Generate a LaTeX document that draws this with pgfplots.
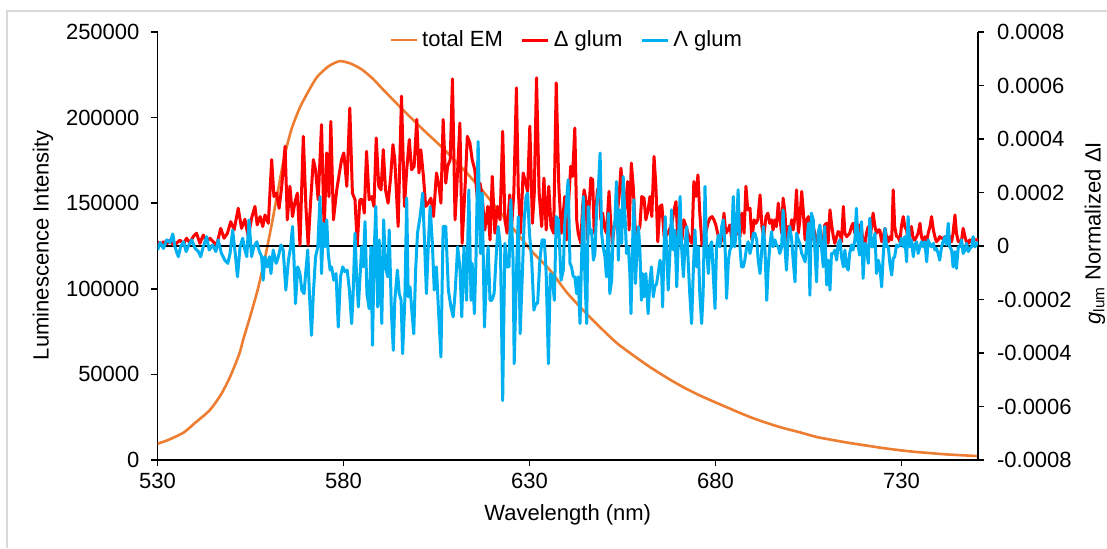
\documentclass[border=0pt]{standalone}
\usepackage{fontspec}
\setmainfont{Liberation Sans}
\usepackage{pgfplots}
\pgfplotsset{compat=1.18}
\definecolor{emorange}{RGB}{237,125,49}
\definecolor{lamblue}{RGB}{0,176,240}
\definecolor{framegray}{RGB}{217,217,217}

\pgfplotsset{
  glumbase/.style={
    scale only axis, width=410.25pt, height=214pt,
    at={(78.75pt,44pt)}, anchor=south west,
    xmin=530, xmax=750.6,
    scaled x ticks=false, scaled y ticks=false,
    tick align=outside, major tick length=3pt,
    tick style={black, line width=0.8pt},
    axis line style={black, line width=0.8pt},
    tick label style={font=\fontsize{11}{13}\selectfont},
    label style={font=\fontsize{11}{13}\selectfont},
  },
}

\begin{document}
\begin{tikzpicture}
\useasboundingbox (0,0) rectangle (553.5pt,274pt);
\draw[framegray, line width=1pt] (3.5pt,0pt) -- (3.5pt,268.5pt) -- (553.5pt,268.5pt);

% primary axis: total emission
\begin{axis}[glumbase,
  axis y line*=left, axis x line*=bottom,
  ymin=0, ymax=250000,
  ytick={0,50000,100000,150000,200000,250000},
  yticklabels={0,50000,100000,150000,200000,250000},
  yticklabel style={xshift=-2.5pt},
  xtick={530,580,630,680,730},
  xticklabels={530,580,630,680,730},
  ylabel={Luminescence Intensity},
  xlabel={Wavelength (nm)},
  ylabel style={at={(axis description cs:-0.1396,0.502)}, anchor=center},
  xlabel style={at={(axis description cs:0.5,-0.1285)}, anchor=center},
]
\addplot[emorange, line width=1.3pt, line join=round, smooth, tension=0.4] coordinates {
(530,9500) (533,11800) (537,16000) (540,21500) (544,29000) (547,38000)
(549.5,48500) (552,62000) (553,70000) (555,84500) (557,100000) (559,119000)
(561,141000) (564,176000) (566,193000) (568.3,206000) (571,217000) (573,224000)
(576,230000) (579,233000) (582,231500) (585,228000) (588,222500) (590.6,216500)
(596,204500) (601.4,193000) (606.8,182000) (613,168000) (617.5,157000) (622,145000)
(626.6,132600) (631,121000) (635.5,111000) (640,98000) (644.4,87600) (649,77500)
(653.5,68300) (658,61000) (662.4,54300) (667,48000) (671.3,42600) (676,37500)
(680.4,33300) (685,29000) (689.3,25100) (694,21500) (698.2,18700) (703,16000)
(707.3,13400) (712,11500) (716.2,9900) (721,8300) (725,7000) (730,5600)
(734,4700) (742,3300) (750.6,2300)
};
\end{axis}

% secondary axis: g_lum
\begin{axis}[glumbase,
  axis y line*=right, axis x line=none,
  ymin=-0.0008, ymax=0.0008,
  ytick={-0.0008,-0.0006,-0.0004,-0.0002,0,0.0002,0.0004,0.0006,0.0008},
  yticklabels={-0.0008,-0.0006,-0.0004,-0.0002,0,0.0002,0.0004,0.0006,0.0008},
  yticklabel style={xshift=3pt},
  ylabel={\textit{g}\textsubscript{lum} Normalized ΔI},
  ylabel style={at={(axis description cs:1.1426,0.53)}, anchor=center},
  legend style={at={(axis description cs:0.5,0.981)}, anchor=center,
    draw=none, fill=none, font=\fontsize{11}{13}\selectfont,
    legend columns=-1, /tikz/every even column/.append style={column sep=7pt}},
  legend image code/.code={\draw[#1] (0pt,0pt) -- (13pt,0pt);},
]
\addlegendimage{emorange, line width=1.3pt}
\addlegendentry{total EM}
\addplot[black, line width=0.8pt, forget plot] coordinates {(530,0) (750.6,0)};
\addplot[red, line width=1.5pt, line join=round] coordinates {
(530.0,16e-6) (530.7,4e-6) (531.6,16e-6) (532.5,8e-6) (533.4,22e-6) (534.3,3e-6) (535.1,10e-6) (536.0,22e-6)
(537.0,8e-6) (537.8,29e-6) (538.7,12e-6) (539.6,35e-6) (540.5,48e-6) (541.4,10e-6) (542.3,41e-6) (543.2,16e-6)
(544.1,29e-6) (545.0,16e-6) (545.9,4e-6) (547.0,66e-6) (547.9,29e-6) (548.8,48e-6) (549.7,91e-6) (550.6,60e-6)
(551.7,141e-6) (552.6,66e-6) (553.5,100e-6) (554.4,35e-6) (555.3,104e-6) (556.2,148e-6) (556.8,79e-6) (557.6,110e-6)
(558.3,73e-6) (558.9,116e-6) (559.8,85e-6) (560.7,323e-6) (561.3,185e-6) (562.0,198e-6) (562.7,141e-6) (563.4,223e-6)
(564.3,373e-6) (564.9,98e-6) (565.6,223e-6) (566.3,110e-6) (566.9,160e-6) (567.6,198e-6) (568.3,4e-6) (569.2,410e-6)
(569.9,148e-6) (570.5,4e-6) (571.2,173e-6) (571.9,323e-6) (572.5,285e-6) (573.2,173e-6) (574.1,454e-6) (574.8,60e-6)
(575.5,348e-6) (576.1,185e-6) (576.6,466e-6) (577.3,98e-6) (578.2,210e-6) (578.9,273e-6) (579.5,323e-6) (580.1,348e-6)
(580.9,223e-6) (581.7,516e-6) (582.4,198e-6) (583.1,173e-6) (583.7,4e-6) (584.4,173e-6)
(585.1,173e-6) (585.6,123e-6) (586.2,354e-6) (586.9,173e-6) (587.6,185e-6) (588.2,148e-6) (588.8,404e-6) (589.5,223e-6)
(590.1,210e-6) (590.7,360e-6) (591.3,210e-6) (592.0,160e-6) (592.7,260e-6) (593.3,379e-6) (593.8,323e-6) (594.7,73e-6)
(595.6,560e-6) (596.4,148e-6) (597.0,285e-6) (597.7,398e-6) (598.3,285e-6) (599.0,298e-6) (599.7,473e-6) (600.3,273e-6)
(600.8,360e-6) (601.5,260e-6) (602.1,148e-6) (602.8,160e-6) (603.5,179e-6) (604.2,110e-6) (605.0,273e-6) (605.7,223e-6)
(606.2,160e-6) (606.8,473e-6) (607.5,235e-6) (608.0,298e-6) (608.7,323e-6) (609.3,625e-6) (610.0,98e-6) (610.7,285e-6)
(611.3,460e-6) (611.9,10e-6) (612.7,223e-6) (613.3,410e-6) (614.0,385e-6) (614.6,323e-6) (615.3,285e-6) (616.1,160e-6)
(616.7,235e-6) (617.3,185e-6) (618.0,60e-6) (618.8,148e-6) (619.4,23e-6) (620.0,260e-6) (620.7,48e-6) (621.4,148e-6)
(622.1,98e-6) (622.8,429e-6) (623.4,98e-6) (624.0,48e-6) (624.7,191e-6) (625.2,73e-6) (625.8,198e-6) (626.5,591e-6)
(627.0,210e-6) (627.6,48e-6) (628.3,273e-6) (628.8,248e-6) (629.5,204e-6) (630.1,448e-6) (630.8,85e-6) (631.3,198e-6)
(631.9,629e-6) (632.6,198e-6) (633.3,73e-6) (633.9,254e-6) (634.5,60e-6) (635.2,223e-6) (635.8,73e-6) (636.5,48e-6)
(637.2,610e-6) (637.9,223e-6) (638.6,48e-6)
(639.5,185e-6) (640.0,23e-6) (640.4,135e-6) (641.1,298e-6) (641.6,260e-6) (642.2,441e-6) (642.7,98e-6) (643.1,48e-6)
(643.8,10e-6) (644.3,148e-6) (644.7,210e-6) (645.2,173e-6) (645.6,23e-6) (646.1,160e-6) (646.5,254e-6) (647.0,248e-6)
(647.4,48e-6) (647.9,148e-6) (648.3,210e-6) (648.8,223e-6) (649.2,98e-6) (649.7,123e-6) (650.1,73e-6) (650.7,48e-6)
(651.4,204e-6) (651.8,98e-6) (652.3,10e-6) (652.8,73e-6) (653.4,98e-6) (654.1,185e-6) (654.6,291e-6) (655.0,223e-6)
(655.5,123e-6) (655.9,160e-6) (656.4,241e-6) (656.8,60e-6) (657.4,310e-6) (657.9,223e-6) (658.4,73e-6) (659.0,48e-6)
(659.7,73e-6) (660.2,185e-6) (660.8,179e-6) (661.3,98e-6) (661.9,135e-6) (662.4,185e-6) (662.9,110e-6) (663.5,335e-6)
(664.0,223e-6) (664.5,16e-6) (665.1,148e-6) (665.6,154e-6) (666.2,35e-6) (666.7,35e-6) (667.2,48e-6) (667.8,66e-6)
(668.3,85e-6) (668.8,129e-6) (669.4,166e-6) (669.9,23e-6) (670.5,35e-6) (671.0,23e-6) (671.5,98e-6) (672.1,73e-6)
(672.6,48e-6) (673.1,23e-6) (673.7,10e-6) (674.2,241e-6) (674.8,185e-6) (675.3,266e-6) (675.8,123e-6) (676.4,4e-6)
(676.9,35e-6) (677.4,48e-6) (678.0,85e-6) (678.5,104e-6) (679.1,110e-6) (679.6,98e-6) (680.1,79e-6) (680.7,41e-6)
(681.2,4e-6) (681.7,23e-6) (682.3,123e-6) (682.8,48e-6) (683.4,60e-6) (683.9,79e-6) (684.4,23e-6) (685.0,48e-6)
(685.5,73e-6) (686.1,48e-6) (686.6,35e-6) (687.1,123e-6) (687.7,48e-6) (688.2,223e-6) (688.7,135e-6) (689.3,141e-6)
(689.8,23e-6) (690.4,98e-6) (690.9,85e-6) (691.4,98e-6) (692.0,191e-6) (692.5,73e-6) (693.0,35e-6) (693.6,110e-6)
(694.1,123e-6)
(694.6,85e-6) (695.1,98e-6) (695.5,60e-6) (696.0,98e-6) (696.4,73e-6) (696.9,160e-6) (697.3,110e-6) (697.8,48e-6)
(698.2,179e-6) (698.7,123e-6) (699.1,23e-6) (699.6,73e-6) (700.0,35e-6) (700.5,98e-6) (700.9,60e-6) (701.4,110e-6)
(701.8,210e-6) (702.3,48e-6) (702.7,98e-6) (703.2,204e-6) (703.6,135e-6) (704.1,23e-6) (704.5,98e-6) (705.0,110e-6)
(705.4,48e-6) (705.8,23e-6) (706.3,73e-6) (706.7,48e-6) (707.2,23e-6) (707.6,10e-6) (708.1,48e-6) (708.5,16e-6)
(709.0,23e-6) (709.4,79e-6) (709.9,85e-6) (710.3,10e-6) (710.8,135e-6) (711.2,85e-6) (711.7,35e-6) (712.1,10e-6)
(712.6,35e-6) (713.0,54e-6) (713.5,48e-6) (713.9,16e-6) (714.4,148e-6) (714.8,48e-6) (715.3,35e-6) (715.7,41e-6)
(716.1,48e-6) (716.6,73e-6) (717.0,85e-6) (717.5,48e-6) (717.9,73e-6) (718.4,23e-6) (718.8,79e-6) (719.3,60e-6)
(719.7,16e-6) (720.2,10e-6) (720.6,48e-6) (721.1,73e-6) (721.5,23e-6) (722.0,73e-6) (722.4,123e-6) (722.9,73e-6)
(723.3,48e-6) (723.8,60e-6) (724.2,60e-6) (724.7,16e-6) (725.1,35e-6) (725.6,66e-6) (726.0,35e-6) (726.5,16e-6)
(726.9,35e-6) (727.4,23e-6) (727.8,210e-6) (728.2,73e-6) (728.7,35e-6) (729.1,35e-6) (729.6,16e-6) (730.0,73e-6)
(730.5,110e-6) (730.9,73e-6) (731.4,60e-6) (731.8,16e-6) (732.3,48e-6) (732.7,73e-6) (733.2,23e-6) (733.6,23e-6)
(734.1,35e-6) (734.5,48e-6) (735.0,85e-6) (735.4,35e-6) (735.9,10e-6) (736.3,35e-6) (736.8,16e-6) (737.2,48e-6)
(737.7,73e-6) (738.1,110e-6) (738.6,60e-6) (739.0,35e-6) (739.4,16e-6) (739.9,23e-6) (740.3,35e-6) (740.8,29e-6)
(741.2,29e-6) (741.7,35e-6) (742.1,23e-6) (742.6,16e-6) (743.0,35e-6) (743.5,16e-6) (743.9,48e-6) (744.4,116e-6)
(744.8,48e-6) (745.3,16e-6) (745.7,16e-6) (746.2,23e-6) (746.6,66e-6) (747.1,35e-6) (747.5,16e-6) (748.0,10e-6)
(748.4,23e-6) (748.9,16e-6) (749.3,29e-6) (749.8,23e-6) (750.6,23e-6)
};
\addlegendentry{Δ glum}
\addplot[lamblue, line width=1.5pt, line join=round] coordinates {
(530.0,-15e-6) (530.7,13e-6) (531.6,-9e-6) (532.5,23e-6) (533.4,13e-6) (534.1,45e-6) (534.7,-3e-6) (535.6,-40e-6)
(536.2,-3e-6) (537.0,16e-6) (537.7,-21e-6) (538.3,0) (539.2,23e-6) (540.1,-9e-6) (541.0,-21e-6) (541.6,-40e-6)
(542.3,-3e-6) (543.2,35e-6) (543.9,-15e-6) (544.8,4e-6) (545.7,-21e-6) (546.3,23e-6) (547.2,-28e-6) (548.1,-53e-6)
(548.9,-65e-6) (549.5,-28e-6) (550.2,60e-6) (550.9,-28e-6) (551.5,-115e-6) (552.2,-3e-6) (552.9,29e-6) (553.5,-15e-6)
(554.0,-40e-6) (554.6,98e-6) (555.3,-40e-6) (555.9,-3e-6) (556.7,16e-6) (557.4,-21e-6) (558.0,-40e-6) (558.4,-128e-6)
(558.9,-40e-6) (559.5,-78e-6) (560.1,-40e-6) (560.5,-103e-6) (561.1,-15e-6) (561.9,-65e-6) (562.5,-40e-6) (563.2,4e-6)
(563.8,-15e-6) (564.5,-165e-6) (565.2,-53e-6) (565.8,-3e-6) (566.3,73e-6) (566.7,-53e-6) (567.1,-215e-6) (567.7,-78e-6)
(568.3,-103e-6) (568.8,-165e-6) (569.4,-178e-6) (569.9,-90e-6) (570.4,-15e-6) (570.8,-165e-6) (571.4,-334e-6) (571.9,-178e-6)
(572.5,-40e-6) (573.1,-3e-6) (573.7,185e-6) (574.1,-103e-6) (574.6,85e-6) (575.0,-3e-6) (575.5,98e-6) (575.9,-28e-6)
(576.4,-90e-6) (576.8,-78e-6) (577.4,-128e-6) (578.0,-103e-6) (578.6,-303e-6) (579.2,-115e-6) (579.8,-78e-6) (580.4,-96e-6)
(581.0,-90e-6) (581.6,-165e-6) (582.2,-290e-6) (582.6,-178e-6) (583.1,48e-6) (583.5,-103e-6) (584.0,-228e-6)
(584.9,-3e-6) (585.3,-78e-6) (585.8,91e-6) (586.3,-178e-6) (586.9,-234e-6) (587.4,-3e-6) (587.8,-371e-6) (588.3,-3e-6)
(588.7,148e-6) (589.2,-228e-6) (589.6,23e-6) (590.3,-290e-6) (590.8,98e-6) (591.3,-78e-6) (591.9,-115e-6) (592.3,60e-6)
(592.9,-253e-6) (593.4,-390e-6) (593.8,-203e-6) (594.5,-90e-6) (595.0,-178e-6) (595.5,-203e-6) (595.9,-403e-6) (596.5,-203e-6)
(597.0,179e-6) (597.4,-190e-6) (597.9,-153e-6) (598.3,-228e-6) (598.9,-328e-6) (599.4,-90e-6) (599.9,48e-6) (600.6,110e-6)
(601.3,198e-6) (601.7,48e-6) (602.3,-178e-6) (602.8,-3e-6) (603.3,148e-6) (603.9,10e-6) (604.4,-165e-6) (605.0,-78e-6)
(605.5,-228e-6) (606.2,-415e-6) (606.8,73e-6) (607.5,73e-6) (608.2,-165e-6) (608.9,-228e-6) (609.5,-265e-6) (610.0,-178e-6)
(610.7,-3e-6) (611.3,-78e-6) (611.8,-265e-6) (612.4,-3e-6) (613.1,-203e-6) (613.7,210e-6) (614.3,-203e-6) (614.6,-65e-6)
(615.2,-253e-6) (615.6,-65e-6) (616.2,391e-6) (616.8,-28e-6) (617.3,198e-6) (617.9,-303e-6) (618.4,-115e-6) (618.9,-3e-6)
(619.4,-203e-6) (619.9,-203e-6) (620.5,-178e-6) (621.2,-3e-6) (621.6,73e-6) (622.2,-3e-6) (622.8,-578e-6) (623.4,10e-6)
(624.0,-78e-6) (624.5,-78e-6) (625.0,173e-6) (625.6,-53e-6) (625.9,-440e-6) (626.5,-103e-6) (627.0,110e-6) (627.5,-328e-6)
(628.1,-103e-6) (628.6,98e-6) (629.1,185e-6) (629.5,198e-6) (630.0,48e-6) (630.6,-53e-6) (631.2,-240e-6) (631.7,-215e-6)
(632.2,-215e-6) (632.8,-53e-6) (633.4,23e-6) (634.0,23e-6) (634.5,-103e-6) (635.1,-440e-6) (635.6,-103e-6) (636.1,-115e-6)
(636.7,-203e-6) (637.2,110e-6) (637.8,98e-6) (638.5,-128e-6) (639.1,-90e-6)
(639.5,85e-6) (640.0,173e-6) (640.4,248e-6) (640.9,-65e-6) (641.3,-78e-6) (641.8,-115e-6) (642.2,-115e-6) (642.7,-178e-6)
(643.1,-115e-6) (643.6,-290e-6) (644.0,-53e-6) (644.5,185e-6) (644.9,-115e-6) (645.4,-290e-6) (645.8,148e-6) (646.3,48e-6)
(646.7,60e-6) (647.2,-53e-6) (647.6,-28e-6) (648.1,148e-6) (648.5,210e-6) (649.0,348e-6) (649.4,48e-6) (649.8,-3e-6)
(650.3,-40e-6) (650.7,-115e-6) (651.2,123e-6) (651.6,-178e-6) (652.1,-128e-6) (652.5,48e-6) (653.0,98e-6) (653.4,241e-6)
(653.9,-53e-6) (654.3,135e-6) (654.8,10e-6) (655.2,260e-6) (655.7,110e-6) (656.1,-28e-6) (656.6,-3e-6) (657.0,-103e-6)
(657.3,-253e-6) (657.7,-3e-6) (658.1,173e-6) (658.5,-140e-6) (658.8,-53e-6) (659.3,73e-6) (659.7,-15e-6) (660.1,-203e-6)
(660.4,-103e-6) (660.8,-190e-6) (661.3,-103e-6) (661.9,-253e-6) (662.4,-128e-6) (662.8,-78e-6) (663.3,-190e-6) (663.7,-153e-6)
(664.2,-140e-6) (664.6,-103e-6) (665.1,-53e-6) (665.5,-78e-6) (665.8,-228e-6) (666.2,-3e-6) (666.5,110e-6) (666.9,-15e-6)
(667.3,-165e-6) (667.8,-15e-6) (668.2,135e-6) (668.7,-15e-6) (669.1,60e-6) (669.6,-153e-6) (670.0,10e-6) (670.5,185e-6)
(670.9,-3e-6) (671.4,-115e-6) (671.8,-3e-6) (672.3,73e-6) (672.7,-65e-6) (673.1,-178e-6) (673.6,-290e-6) (674.0,-115e-6)
(674.5,60e-6) (674.9,-78e-6) (675.4,-3e-6) (675.8,-178e-6) (676.3,-290e-6) (676.7,-178e-6) (677.2,223e-6) (677.6,-3e-6)
(678.1,-103e-6) (678.5,-3e-6) (679.0,16e-6) (679.4,-103e-6) (679.9,-234e-6) (680.3,-3e-6) (680.8,41e-6) (681.2,-3e-6)
(681.7,73e-6) (682.1,98e-6) (682.6,-3e-6) (683.0,-196e-6) (683.5,-53e-6) (683.9,-15e-6) (684.3,-3e-6) (684.8,185e-6)
(685.2,-3e-6) (685.7,73e-6) (686.1,210e-6) (686.6,-3e-6) (687.0,-78e-6) (687.5,-78e-6) (687.9,-53e-6) (688.4,-3e-6)
(688.8,16e-6) (689.3,-28e-6) (689.7,-3e-6) (690.2,48e-6) (690.6,48e-6) (691.1,23e-6) (691.5,-53e-6) (692.0,-103e-6)
(692.4,-28e-6) (692.9,73e-6) (693.3,-3e-6) (693.8,-203e-6) (694.2,-78e-6)
(694.6,-3e-6) (695.1,54e-6) (695.5,-3e-6) (696.0,23e-6) (696.4,4e-6) (696.9,-3e-6) (697.3,-28e-6) (697.8,-3e-6)
(698.2,135e-6) (698.7,-3e-6) (699.1,-90e-6) (699.6,35e-6) (700.0,73e-6) (700.5,23e-6) (700.9,-53e-6) (701.4,-134e-6)
(701.8,48e-6) (702.3,23e-6) (702.7,10e-6) (703.2,-28e-6) (703.6,-40e-6) (704.1,-59e-6) (704.5,-3e-6) (705.0,85e-6)
(705.4,-184e-6) (705.8,123e-6) (706.3,98e-6) (706.7,-3e-6) (707.2,-134e-6) (707.6,48e-6) (708.1,79e-6) (708.5,-3e-6)
(709.0,-78e-6) (709.4,73e-6) (709.9,-146e-6) (710.3,-53e-6) (710.8,-165e-6) (711.2,-28e-6) (711.7,-28e-6) (712.1,-15e-6)
(712.6,-53e-6) (713.0,10e-6) (713.5,23e-6) (713.9,-40e-6) (714.4,-78e-6) (714.8,-15e-6) (715.3,-78e-6) (715.7,-90e-6)
(716.1,-28e-6) (716.6,4e-6) (717.0,-15e-6) (717.5,23e-6) (717.9,141e-6) (718.4,-3e-6) (718.8,-34e-6) (719.3,91e-6)
(719.7,-121e-6) (720.2,10e-6) (720.6,-3e-6) (721.1,-65e-6) (721.5,104e-6) (722.0,-3e-6) (722.4,-3e-6) (722.9,48e-6)
(723.3,-103e-6) (723.8,-53e-6) (724.2,-78e-6) (724.7,-153e-6) (725.1,-40e-6) (725.6,66e-6) (726.0,-3e-6) (726.5,-3e-6)
(726.9,-65e-6) (727.4,-109e-6) (727.8,-46e-6) (728.2,-40e-6) (728.7,4e-6) (729.1,-3e-6) (729.6,4e-6) (730.0,29e-6)
(730.5,-3e-6) (730.9,35e-6) (731.4,-59e-6) (731.8,110e-6) (732.3,-3e-6) (732.7,23e-6) (733.2,-40e-6) (733.6,4e-6)
(734.1,16e-6) (734.5,-28e-6) (735.0,-3e-6) (735.4,16e-6) (735.9,-3e-6) (736.3,16e-6) (736.8,-59e-6) (737.2,23e-6)
(737.7,4e-6) (738.1,-3e-6) (738.6,10e-6) (739.0,-15e-6) (739.4,-9e-6) (739.9,-28e-6) (740.3,-53e-6) (740.8,-3e-6)
(741.2,16e-6) (741.7,35e-6) (742.1,4e-6) (742.6,85e-6) (743.0,-3e-6) (743.5,-15e-6) (743.9,-78e-6) (744.4,-21e-6)
(744.8,-84e-6) (745.3,-3e-6) (745.7,-3e-6) (746.2,23e-6) (746.6,-28e-6) (747.1,-15e-6) (747.5,10e-6) (748.0,-21e-6)
(748.4,-9e-6) (748.9,-3e-6) (749.3,35e-6) (749.8,-3e-6) (750.6,16e-6)
};
\addlegendentry{Λ glum}
\end{axis}
\end{tikzpicture}
\end{document}
